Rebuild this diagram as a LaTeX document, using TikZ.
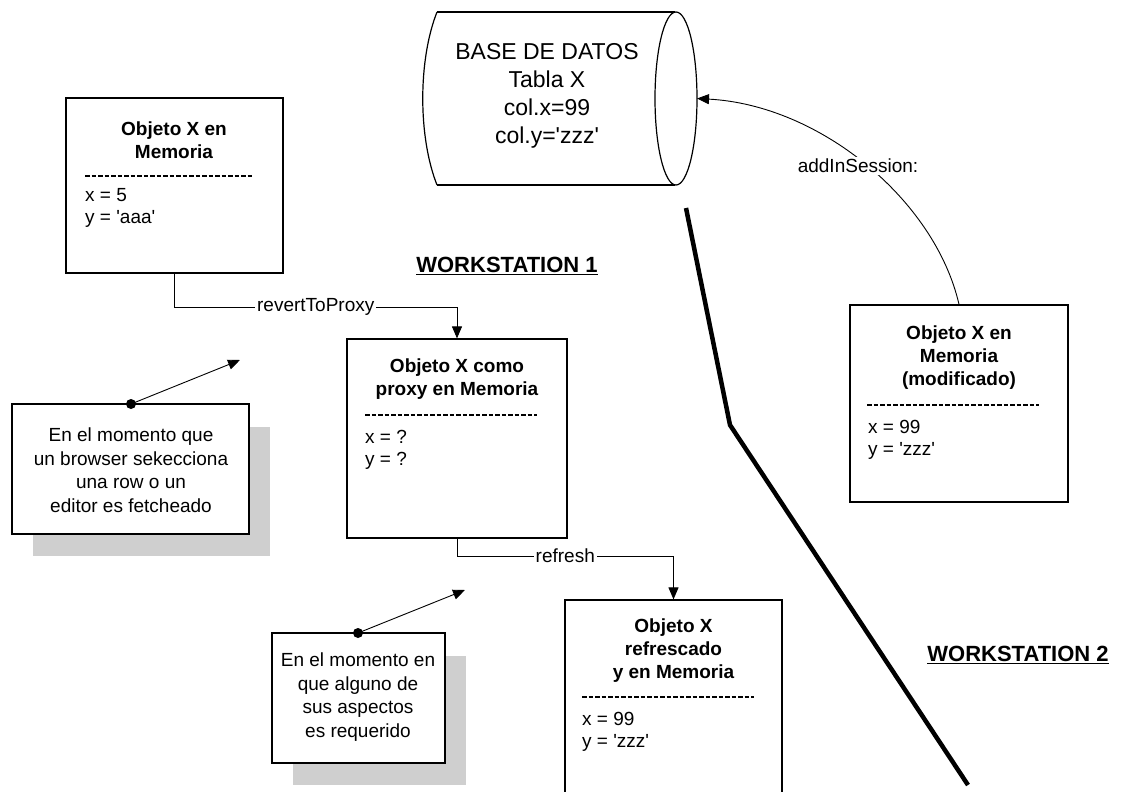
\documentclass[tikz,border=0pt]{standalone}
\usepackage{fontspec}
\setmainfont{Liberation Sans}
\usetikzlibrary{arrows.meta}
\newcommand\sqt{\textquotesingle}
\tikzset{
  box/.style={draw, line width=1.2pt, inner sep=0pt, fill=white},
  head/.style={align=center, inner sep=0pt, font=\fontsize{19}{23}\selectfont\bfseries},
  body/.style={align=left, anchor=west, inner sep=0pt, font=\fontsize{19}{22}\selectfont},
  sepline/.style={line width=1.2pt, dash pattern=on 4.5pt off 2pt},
  conn/.style={line width=0.9pt, -{Triangle[length=12pt,width=10pt]}},
  lbl/.style={fill=white, inner sep=2pt, font=\fontsize{19}{23}\selectfont},
  note/.style={draw, line width=1.2pt, fill=white, inner sep=0pt},
  shadow/.style={fill=gray!38, draw=none},
  notetext/.style={align=center, inner sep=0pt, font=\fontsize{19}{23.5}\selectfont},
  ws/.style={inner sep=0pt, font=\fontsize{22}{26}\selectfont\bfseries},
  dot/.style={circle, fill=black, inner sep=0pt, minimum size=10pt}
}
\begin{document}
\begin{tikzpicture}[x=1pt,y=-1pt]
\useasboundingbox (0,0) rectangle (1144,792);
\clip (0,0) rectangle (1144,792);
\fill[white] (0,0) rectangle (1144,792);

% database cylinder
\draw[line width=1.2pt] (437,12) -- (675,12);
\draw[line width=1.2pt] (437,185) -- (675,185);
\draw[line width=1.2pt] (437,12) .. controls (418,60) and (418,137) .. (437,185);
\draw[line width=1.2pt] (676,98.5) ellipse [x radius=21, y radius=86.5];
\node[align=center, inner sep=0pt, font=\fontsize{23}{28}\selectfont] (db) at (547,96)
  {BASE DE DATOS\\Tabla X\\col.x=99\\col.y=\sqt zzz\sqt};
\coordinate (dbE) at (697,98.5);

% box 1
\node[box, minimum width=217pt, minimum height=175pt] (b1) at (174.5,185.5) {};
\node[head] (h1) at (174,140.5) {Objeto X en\\Memoria};
\draw[sepline] (85,176) -- (254,176);
\node[body] (t1) at (85,208) {x = 5\\y = \sqt aaa\sqt};

% box 2
\node[box, minimum width=220pt, minimum height=199pt] (b2) at (457,438.5) {};
\node[head] (h2) at (457,379.5) {Objeto X como\\proxy en Memoria};
\draw[sepline] (365,415) -- (537,415);
\node[body] (t2) at (365,450) {x = ?\\y = ?};

% box 3
\node[box, minimum width=217pt, minimum height=200pt] (b3) at (673.5,700) {};
\node[head] (h3) at (673.5,651) {Objeto X\\refrescado\\y en Memoria};
\draw[sepline] (582,697) -- (754,697);
\node[body] (t3) at (582,732) {x = 99\\y = \sqt zzz\sqt};

% box 4
\node[box, minimum width=218pt, minimum height=197pt] (b4) at (959,403.5) {};
\node[head] (h4) at (959,358) {Objeto X en\\Memoria\\(modificado)};
\draw[sepline] (867,405) -- (1039,405);
\node[body] (t4) at (868,440) {x = 99\\y = \sqt zzz\sqt};

% connectors
\coordinate (r1) at (0,307);
\draw[conn] (b1.south) -- (b1.south |- r1) -- node[lbl] {revertToProxy} (b2.north |- r1) -- (b2.north);
\coordinate (r2) at (0,556);
\draw[conn] (b2.south) -- (b2.south |- r2) -- node[lbl] {refresh} (b3.north |- r2) -- (b3.north);
\draw[line width=0.9pt, -{Triangle[length=12pt,width=10pt]}] (b4.north) .. controls (935,200) and (820,105) .. (dbE);
\node[lbl] (ais) at (858,166) {addInSession:};

% note 1
\fill[shadow] (33,427) rectangle (270,556);
\node[note, minimum width=237pt, minimum height=130pt] (n1) at (130.5,469) {};
\node[notetext] (n1t) at (131,470) {En el momento que\\un browser sekecciona\\una row o un\\editor es fetcheado};
\node[dot] (d1) at (131,404) {};
\coordinate (a1) at (240,360);
\draw[conn] (d1.center) -- (a1);

% note 2
\fill[shadow] (293,656) rectangle (466,785);
\node[note, minimum width=173pt, minimum height=130pt] (n2) at (358.5,698) {};
\node[notetext] (n2t) at (358,697) {En el momento en\\que alguno de\\sus aspectos\\es requerido};
\node[dot] (d2) at (358,633) {};
\coordinate (a2) at (465,590);
\draw[conn] (d2.center) -- (a2);

% workstation labels
\node[ws] (ws1) at (507,266) {\underline{WORKSTATION 1}};
\node[ws] (ws2) at (1018,655) {\underline{WORKSTATION 2}};

% separator
\coordinate (s1) at (686,208);
\coordinate (s2) at (730,425);
\coordinate (s3) at (968,785);
\draw[line width=4.5pt] (s1) -- (s2) -- (s3);
\end{tikzpicture}
\end{document}
